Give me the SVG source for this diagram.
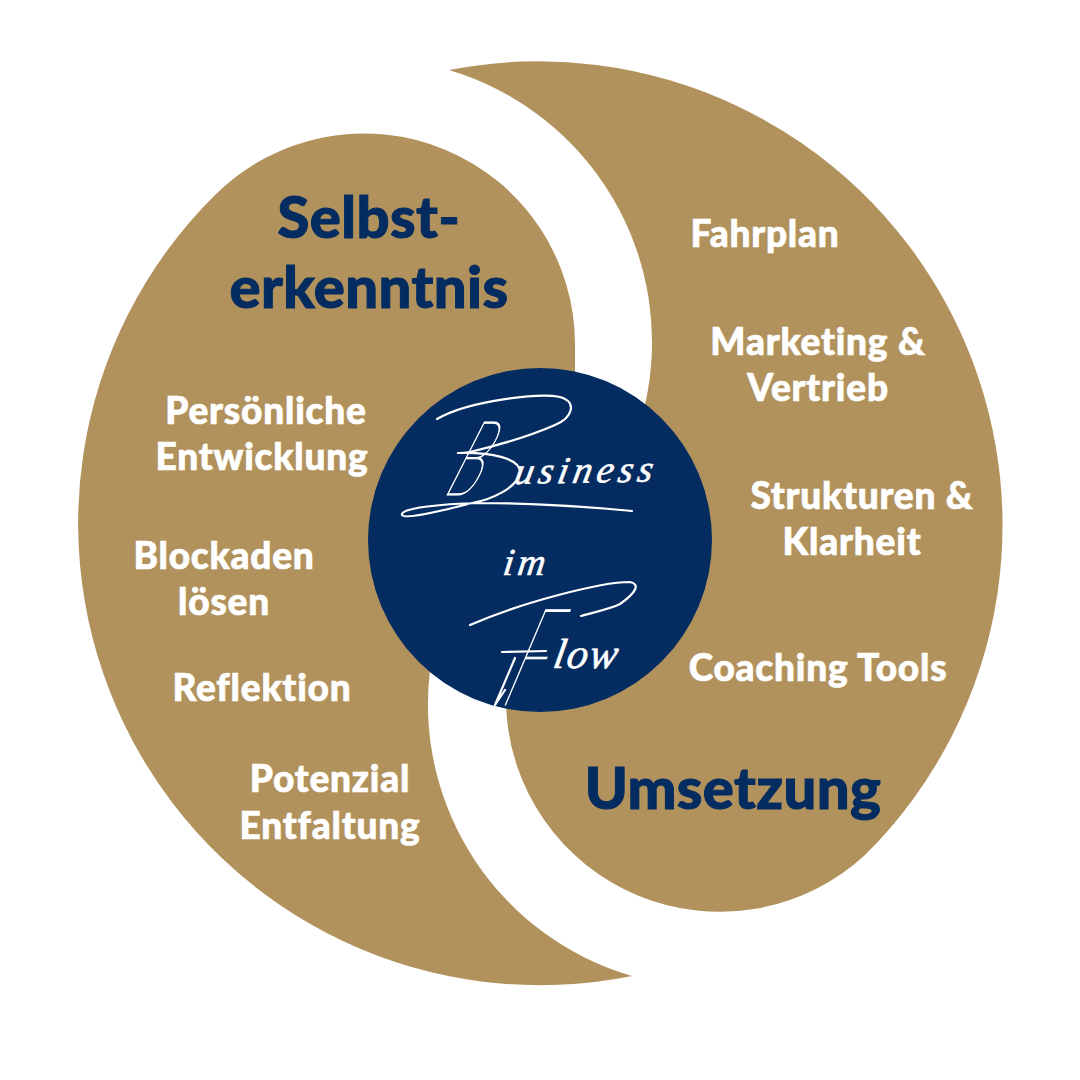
<svg xmlns="http://www.w3.org/2000/svg" width="1080" height="1080" viewBox="0 0 1080 1080">
<style>
.w{font-family:"Lato","Liberation Sans",sans-serif;font-weight:900;font-size:37px;letter-spacing:.8px;fill:#fff;stroke:#fff;stroke-width:.7;text-anchor:middle}
.h{font-family:"Lato","Liberation Sans",sans-serif;font-weight:900;font-size:58px;letter-spacing:.4px;fill:#042c60;stroke:#042c60;stroke-width:1;text-anchor:middle}
.s{fill:none;stroke:#fff;stroke-width:2.2;stroke-linecap:round;stroke-linejoin:round}
.cap{font-family:"Lato","Liberation Sans",sans-serif;font-weight:100;fill:#fff;stroke:#fff;stroke-width:1.2}
.t{font-family:"Liberation Serif","DejaVu Serif",serif;font-style:italic;fill:#fff;stroke:#fff;stroke-width:.6}
</style>
<rect width="1080" height="1080" fill="#fff"/>
<g id="left-shape"><path fill="#b2925c" d="M632 976A462 462 0 0 1 215 195A211 211 0 0 1 575 345L575 380L430 670A283 283 0 0 0 632 976Z"/></g>
<g id="right-shape"><path fill="#b2925c" d="M449 70A464 464 0 0 1 865 855A214 214 0 0 1 506 706L506 690L645 405A284 284 0 0 0 449 70Z"/></g>
<g id="center"><circle cx="540" cy="540" r="172" fill="#042c60"/>
<path class="s" d="M437 419C470 400 540 393 560 397C578 402 572 418 555 425C530 436 495 446 470 452C462 453 457 453 458 453C490 452 520 458 520 472C518 488 490 500 472 503C445 510 405 520 402 515C400 508 440 504 480 503C540 503 590 507 632 511"/>
<path class="s" d="M470 625C520 603 600 582 630 582C640 584 637 592 620 604C610 609 595 612 581 616"/>
<path class="s" d="M502 652L546 651"/>
<path class="s" d="M515 658L495 705L505 690"/>
<text class="cap" transform="translate(441 495) skewX(-27) scale(.5 1)" font-size="104">B</text>
<text class="t" transform="translate(513 484) skewX(-12) rotate(-1)" font-size="38" letter-spacing="4.600">usiness</text>
<text class="t" transform="translate(502 575) skewX(-8)" font-size="38" letter-spacing="4">im</text>
<text class="cap" transform="translate(498 705) skewX(-23) scale(.45 1)" font-size="136">F</text>
<text class="t" transform="translate(552 668) skewX(-10)" font-size="42" letter-spacing="1.500">low</text>
</g>
<g id="labels">
<text class="h" x="369" y="238">Selbst-</text>
<text class="h" x="369" y="308">erkenntnis</text>
<text class="h" x="733" y="809">Umsetzung</text>
<text class="w" x="266" y="424">Persönliche</text>
<text class="w" x="262" y="470">Entwicklung</text>
<text class="w" x="224" y="569">Blockaden</text>
<text class="w" x="224" y="615">lösen</text>
<text class="w" x="262" y="701">Reflektion</text>
<text class="w" x="330" y="792">Potenzial</text>
<text class="w" x="330" y="839">Entfaltung</text>
<text class="w" x="765" y="247">Fahrplan</text>
<text class="w" x="818" y="355">Marketing &amp;</text>
<text class="w" x="818" y="401">Vertrieb</text>
<text class="w" x="862" y="509">Strukturen &amp;</text>
<text class="w" x="852" y="555">Klarheit</text>
<text class="w" x="818" y="681">Coaching Tools</text>
</g>
</svg>
